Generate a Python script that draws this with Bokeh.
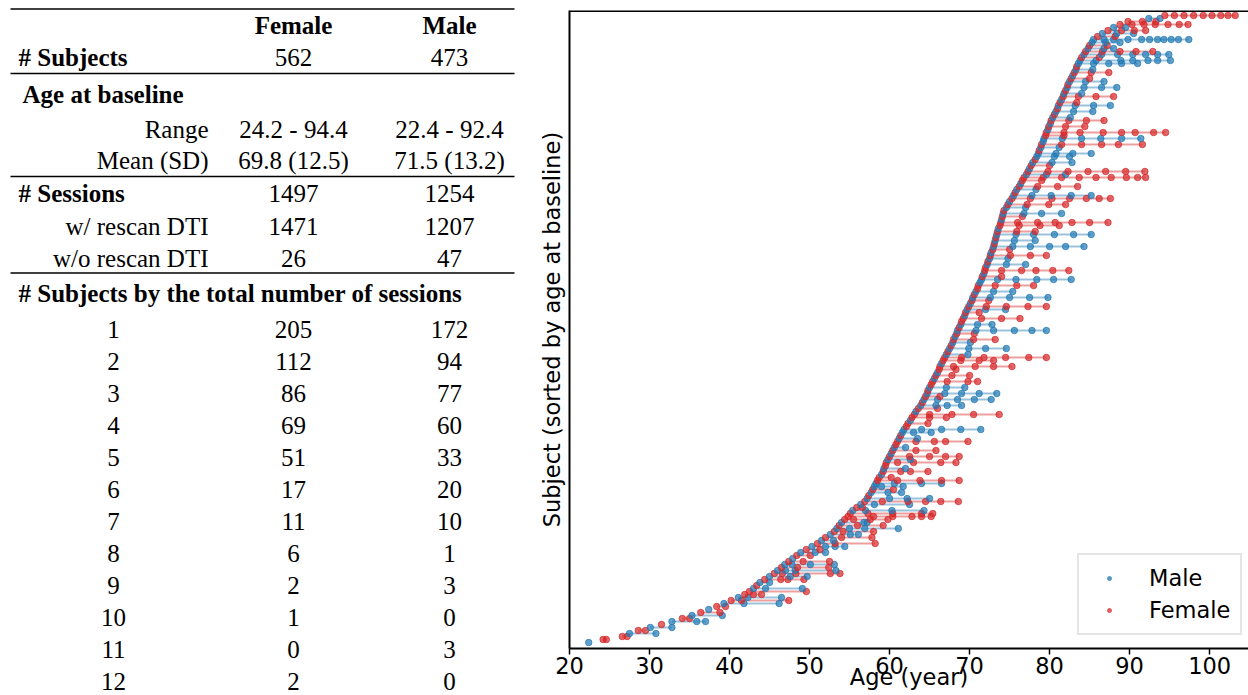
from bokeh.plotting import figure
from bokeh.layouts import row
from bokeh.models import Range1d, FixedTicker, Span, ColumnDataSource, Legend, LegendItem
from bokeh.core.properties import value
from bokeh.embed import file_html
from bokeh.resources import INLINE

# ---------------- table data ----------------
col_headers = ["Female", "Male"]
n_subjects = ["562", "473"]
age_range = ["24.2 - 94.4", "22.4 - 92.4"]
age_mean_sd = ["69.8 (12.5)", "71.5 (13.2)"]
n_sessions_total = ["1497", "1254"]
with_rescan = ["1471", "1207"]
without_rescan = ["26", "47"]
session_counts = ["1", "2", "3", "4", "5", "6", "7", "8", "9", "10", "11", "12"]
female_by_sessions = ["205", "112", "86", "69", "51", "17", "11", "6", "2", "1", "0", "2"]
male_by_sessions = ["172", "94", "77", "60", "33", "20", "10", "1", "3", "0", "3", "0"]

# ---------------- plot data (subjects sorted by baseline age, estimated) ----------------
x_ticks = [20, 30, 40, 50, 60, 70, 80, 90, 100]
subject_sessions = [
    ("M", [22.4]), ("F", [24.2, 24.6]), ("F", [26.6, 27.2]), ("M", [27.5, 30.8]), ("F", [28.6, 29.5]),
    ("M", [30.1, 32.8]), ("F", [31.5]), ("M", [32.8, 35.9, 37.0]), ("F", [34.1, 35.0]), ("M", [35.3, 39.1]),
    ("F", [36.4, 38.8]), ("M", [37.4]), ("F", [38.4, 39.5]), ("M", [39.3, 41.8, 46.2]), ("F", [40.2, 41.5, 47.4]),
    ("M", [41.1, 42.3, 46.5]), ("F", [41.9, 43.0, 44.0]), ("F", [42.5, 49.6]), ("M", [43.0, 44.5, 49.1]), ("F", [43.4]),
    ("M", [43.8, 45.0]), ("F", [44.4, 46.4, 47.3, 49.3]), ("M", [45.0, 47.6, 49.7]), ("F", [45.6, 46.6, 48.3, 52.6, 53.8]), ("M", [46.0, 47.0, 48.2, 53.3]),
    ("F", [46.5, 48.5, 52.4]), ("M", [46.9, 47.8, 50.1, 53.1]), ("F", [47.4, 49.2, 52.5]), ("M", [47.9]), ("F", [48.4, 50.1]),
    ("M", [48.9, 50.7, 52.0]), ("F", [49.6, 51.3]), ("M", [50.3, 52.0, 53.2, 54.4]), ("F", [51.0, 53.2, 58.2]), ("M", [51.5, 53.0]),
    ("F", [52.0, 54.0, 57.8]), ("M", [52.6, 55.1, 56.1]), ("F", [53.1, 54.2, 58.0]), ("M", [53.4, 55.0, 56.9, 61.1]), ("F", [53.7, 56.0, 59.2]),
    ("M", [54.0, 56.8, 57.2]), ("F", [54.4, 55.5, 57.6, 59.8]), ("F", [54.8, 58.0, 60.4, 62.8, 64.0, 65.2]), ("F", [55.1, 57.3, 60.4, 64.0, 65.4]), ("M", [55.4, 57.0, 60.3, 64.3]),
    ("F", [55.9, 56.6]), ("M", [56.4, 58.1, 62.5]), ("F", [56.9, 59.1, 62.3, 64.5, 66.4, 68.6]), ("M", [57.2, 60.0, 62.2, 65.0]), ("F", [57.4]),
    ("M", [57.7, 59.8, 61.5]), ("F", [57.9, 60.5]), ("M", [58.1, 59.0, 61.7]), ("M", [58.3, 60.6, 64.0, 66.5]), ("F", [58.5, 61.0, 63.8, 66.5, 68.7]),
    ("F", [58.7, 60.2]), ("M", [59.0]), ("F", [59.2, 61.4, 62.6, 64.8]), ("M", [59.3, 62.0]), ("F", [59.5]),
    ("F", [59.6, 61.0, 63.0, 66.4, 68.3]), ("M", [59.8, 62.6]), ("F", [60.0, 62.5, 65.0, 67.0, 68.7]), ("M", [60.2]), ("F", [60.4, 63.3, 65.8]),
    ("M", [60.6, 62.0]), ("F", [60.8]), ("F", [61.0, 63.3, 65.6, 67.0, 69.8]), ("M", [61.2, 63.5]), ("F", [61.4]),
    ("M", [61.6, 63.0, 65.2]), ("M", [61.8, 64.0, 66.5, 68.9, 71.4]), ("F", [62.1]), ("F", [62.3, 64.8]), ("M", [62.6]),
    ("F", [62.8, 65.0, 67.1]), ("F", [63.1, 65.0, 67.8, 70.5, 73.7]), ("M", [63.3]), ("F", [63.6, 66.0]), ("M", [63.9, 65.8, 67.2, 69.0]),
    ("F", [64.1]), ("M", [64.3, 66.0, 68.5, 70.6, 72.7]), ("F", [64.5, 66.3]), ("M", [64.7, 66.9, 69.0, 71.2, 73.4]), ("F", [64.8]),
    ("M", [65.0, 67.1, 69.4]), ("F", [65.2]), ("F", [65.4, 67.2, 69.8, 71.0]), ("M", [65.6]), ("F", [65.8, 67.8, 70.0]),
    ("M", [66.0]), ("F", [66.2, 68.3]), ("F", [66.3, 68.0, 70.7, 73.0, 75.3]), ("M", [66.5]), ("F", [66.7, 68.9, 71.2, 73.0]),
    ("F", [66.9, 69.0, 71.8, 74.5, 77.4, 79.6]), ("M", [67.1, 69.8]), ("F", [67.3]), ("M", [67.5, 69.9, 72.0, 74.6]), ("F", [67.7]),
    ("M", [67.9, 70.1]), ("F", [68.0, 70.5, 73.2]), ("M", [68.2]), ("F", [68.4, 70.6]), ("M", [68.5, 70.8, 73.0, 75.6, 77.8, 79.6]),
    ("F", [68.7]), ("M", [68.9, 71.0, 72.8]), ("F", [69.0]), ("F", [69.2, 71.5, 74.0, 76.3]), ("M", [69.4]),
    ("F", [69.5, 71.2]), ("M", [69.7, 72.0, 74.5]), ("F", [69.9, 72.1, 74.6, 77.3, 79.6]), ("M", [70.1]), ("F", [70.3, 72.4]),
    ("M", [70.4, 72.6, 75.0, 77.5, 79.8]), ("F", [70.6]), ("M", [70.8, 73.0, 75.4]), ("F", [71.0]), ("F", [71.1, 73.2, 75.9, 78.0]),
    ("M", [71.3]), ("M", [71.5, 73.5, 75.8, 78.4, 80.5, 82.7]), ("F", [71.6, 74.0]), ("M", [71.8]), ("F", [71.9, 74.0, 76.5, 78.3, 80.4, 82.4]),
    ("F", [72.0]), ("M", [72.2, 74.6, 77.0]), ("F", [72.3]), ("M", [72.5, 74.8]), ("F", [72.6, 75.1, 77.6, 79.6]),
    ("M", [72.7]), ("F", [72.9, 75.0]), ("M", [73.0, 75.4, 77.6, 80.0, 82.0, 84.3]), ("F", [73.1]), ("M", [73.2, 75.6, 78.2]),
    ("F", [73.3]), ("M", [73.4, 75.8, 78.0, 80.6, 83.0, 85.2]), ("F", [73.5, 75.9, 78.2]), ("M", [73.6]), ("F", [73.8, 76.2, 78.8, 81.2]),
    ("F", [73.9, 76.0, 78.5, 80.7, 82.8, 85.0, 87.3]), ("M", [74.0]), ("F", [74.1, 76.6]), ("M", [74.2, 76.8, 79.0, 81.5]), ("F", [74.3]),
    ("M", [74.6, 77.0]), ("F", [74.8, 77.2, 79.9, 82.0]), ("M", [75.0]), ("F", [75.3, 77.6, 80.3, 82.5, 84.6, 86.2, 87.6]), ("M", [75.5, 77.8, 80.2, 82.7, 85.2]),
    ("F", [75.7]), ("M", [75.9, 78.3]), ("F", [76.2, 78.5, 81.0, 83.5]), ("M", [76.4]), ("F", [76.6, 79.0]),
    ("F", [76.8, 79.2, 81.5, 83.7, 85.8, 87.7, 89.6, 91.0, 92.0]), ("M", [77.1, 79.6, 82.0]), ("F", [77.3, 79.8, 82.3, 84.8, 87.0, 89.5, 91.9]), ("M", [77.5]), ("F", [77.7, 80.0]),
    ("M", [77.9, 80.3, 82.8]), ("F", [78.2]), ("M", [78.4, 80.6, 82.5]), ("M", [78.6, 80.8, 82.9, 85.2]), ("F", [78.7]),
    ("M", [78.9, 81.2]), ("F", [79.0, 81.5, 84.0, 86.5, 88.6, 91.6]), ("M", [79.2]), ("M", [79.3, 81.6, 84.0, 86.4, 89.0, 91.4]), ("F", [79.5, 81.8]),
    ("F", [79.6, 81.8, 83.8, 86.7, 89.0, 90.7, 93.0, 94.5]), ("M", [79.8]), ("F", [79.9, 82.0, 84.4]), ("M", [80.1]), ("F", [80.2, 82.4, 84.6, 86.8]),
    ("M", [80.4, 82.6]), ("F", [80.6]), ("M", [80.8, 83.0, 85.4]), ("F", [81.0]), ("M", [81.1, 83.2, 85.5, 87.6]),
    ("F", [81.3, 83.4]), ("M", [81.5]), ("F", [81.7, 83.6, 85.8, 88.0]), ("M", [81.8, 84.0]), ("F", [82.0]),
    ("M", [82.2, 84.3, 86.5, 88.4]), ("F", [82.3]), ("M", [82.5, 84.5, 86.8]), ("F", [82.7, 85.0]), ("M", [82.9]),
    ("F", [83.1, 85.2, 87.4]), ("M", [83.3, 85.4]), ("F", [83.4]), ("M", [83.6, 85.5, 87.4, 89.0, 91.0]), ("M", [83.8, 85.8, 88.9, 90.4, 92.3, 93.5, 95.1]),
    ("F", [84.0, 86.2]), ("M", [84.3, 86.5, 88.5, 90.4, 92.0, 93.5, 94.9]), ("F", [84.5, 86.6, 88.8, 90.8, 92.9]), ("M", [84.8, 86.8, 88.0]), ("F", [85.0, 87.2]),
    ("M", [85.3, 87.0, 88.8]), ("M", [85.5, 86.8, 88.0, 89.8, 91.5, 92.5, 93.5, 94.3, 95.2, 96.1, 97.4]), ("F", [86.0, 88.2]), ("M", [86.6, 88.4, 90.5]), ("F", [87.3, 89.0, 90.6, 92.0]),
    ("M", [88.0, 89.5]), ("F", [88.8, 90.3, 91.8, 93.2, 94.8, 96.2, 97.3]), ("F", [89.8, 91.6, 93.3]), ("M", [92.4, 93.8]),
    ("F", [94.4, 95.6, 96.8, 98.0, 99.2, 100.3, 101.4, 102.3, 103.2]),
]

MALE_COLOR = "#1f77b4"
FEMALE_COLOR = "#d62728"
SERIF = value("Liberation Serif")
SANS = "DejaVu Sans"

TOTAL_W, TOTAL_H = 1248, 695

# ---------------- left: table ----------------
TW, TH = 535, TOTAL_H
t = figure(width=TW, height=TH, x_range=Range1d(0, TW), y_range=Range1d(TH, 0),
           output_backend="svg", toolbar_location=None, min_border=0)
t.frame_align = False
t.axis.visible = False
t.grid.visible = False
t.outline_line_color = None
t.background_fill_color = "white"

FS = "25px"
CF, CM = 293, 449

def put(xs, ys, texts, align="center", bold=False):
    t.text(x=xs, y=ys, text=texts, text_font=SERIF, text_font_size=FS,
           text_align=align, text_baseline="middle", text_color="black",
           text_font_style="bold" if bold else "normal")

# horizontal rules
for yy in [8.5, 73, 176, 272.5]:
    t.segment(x0=[10], y0=[yy], x1=[514], y1=[yy], line_color="black", line_width=1.6)

put([CF, CM], [25] * 2, col_headers, bold=True)
put([18], [57], ["# Subjects"], align="left", bold=True)
put([CF, CM], [57] * 2, n_subjects)
put([22], [94], ["Age at baseline"], align="left", bold=True)
put([208], [129], ["Range"], align="right")
put([CF, CM], [129] * 2, age_range)
put([208], [160], ["Mean (SD)"], align="right")
put([CF, CM], [160] * 2, age_mean_sd)
put([18], [193], ["# Sessions"], align="left", bold=True)
put([CF, CM], [193] * 2, n_sessions_total)
put([208], [226], ["w/ rescan DTI"], align="right")
put([CF, CM], [226] * 2, with_rescan)
put([208], [258], ["w/o rescan DTI"], align="right")
put([CF, CM], [258] * 2, without_rescan)
put([18], [293], ["# Subjects by the total number of sessions"], align="left", bold=True)
row_y = [329 + 32.0 * k for k in range(len(session_counts))]
put([113] * len(session_counts), row_y, session_counts)
put([CF] * len(session_counts), row_y, female_by_sessions)
put([CM] * len(session_counts), row_y, male_by_sessions)

# ---------------- right: subject timeline plot ----------------
PW, PH = TOTAL_W - TW, TOTAL_H
n = len(subject_sessions)
FRAME_LEFT = 567
x_end = 20 + (TOTAL_W - FRAME_LEFT) / 8.025
p = figure(width=PW, height=PH, x_range=Range1d(20, x_end), y_range=Range1d(-2, n - 1 + 1.67),
           output_backend="svg", toolbar_location=None,
           min_border_left=FRAME_LEFT - TW, min_border_right=0, min_border_top=10, min_border_bottom=47)
p.frame_align = False
p.grid.visible = False
p.outline_line_color = None
p.background_fill_color = "white"

seg = dict(x0=[], x1=[], y=[], color=[])
dots = dict(x=[], y=[], color=[])
first_m = first_f = None
for i, (sex, ages) in enumerate(subject_sessions):
    c = MALE_COLOR if sex == "M" else FEMALE_COLOR
    if len(ages) > 1:
        seg["x0"].append(ages[0]); seg["x1"].append(ages[-1]); seg["y"].append(i); seg["color"].append(c)
    for a in ages:
        if sex == "M" and first_m is None:
            first_m = len(dots["x"])
        if sex == "F" and first_f is None:
            first_f = len(dots["x"])
        dots["x"].append(a); dots["y"].append(i); dots["color"].append(c)

p.segment(x0="x0", y0="y", x1="x1", y1="y", color="color", line_width=2.2, line_alpha=0.45,
          source=ColumnDataSource(seg))
r = p.scatter(x="x", y="y", color="color", size=6.5, alpha=0.7, source=ColumnDataSource(dots))

# top spine
p.add_layout(Span(location=n - 1 + 1.67, dimension="width", line_color="black", line_width=3))

p.xaxis.ticker = FixedTicker(ticks=x_ticks)
p.xaxis.axis_label = "Age (year)"
p.xaxis.axis_label_text_font = SANS
p.xaxis.axis_label_text_font_size = "22.5px"
p.xaxis.axis_label_text_font_style = "normal"
p.xaxis.axis_label_text_color = "black"
p.xaxis.axis_label_standoff = -13
p.xaxis.major_label_text_font = SANS
p.xaxis.major_label_text_font_size = "22.5px"
p.xaxis.major_label_text_color = "black"
p.xaxis.major_label_standoff = 2
p.xaxis.major_tick_out = 6
p.xaxis.major_tick_in = 0
p.xaxis.minor_tick_out = 0
p.xaxis.minor_tick_in = 0
p.xaxis.axis_line_width = 2
p.xaxis.axis_line_color = "black"
p.xaxis.major_tick_line_width = 1.5
p.xaxis.major_tick_line_color = "black"

p.yaxis.ticker = FixedTicker(ticks=[])
p.yaxis.major_label_text_font_size = "0px"
p.yaxis.major_label_standoff = 0
p.yaxis.major_tick_out = 0
p.yaxis.minor_tick_out = 0
p.yaxis.major_tick_in = 0
p.yaxis.minor_tick_in = 0
p.yaxis.axis_label = "Subject (sorted by age at baseline)"
p.yaxis.axis_label_text_font = SANS
p.yaxis.axis_label_text_font_size = "22.5px"
p.yaxis.axis_label_text_font_style = "normal"
p.yaxis.axis_label_text_color = "black"
p.yaxis.axis_label_standoff = 5
p.yaxis.axis_line_width = 2
p.yaxis.axis_line_color = "black"

legend = Legend(items=[LegendItem(label="Male", renderers=[r], index=first_m),
                       LegendItem(label="Female", renderers=[r], index=first_f)])
legend.location = (508, 13)
legend.margin = 0
legend.label_text_font = SANS
legend.label_text_font_size = "22.5px"
legend.label_text_color = "black"
legend.border_line_color = "#cccccc"
legend.border_line_width = 2
legend.background_fill_alpha = 0.8
legend.padding = 10
legend.spacing = 6
legend.glyph_width = 40
legend.glyph_height = 10
legend.label_height = 25
legend.label_standoff = 20
p.add_layout(legend)

layout = row(t, p)
open("out.html", "w").write(file_html(layout, INLINE))
